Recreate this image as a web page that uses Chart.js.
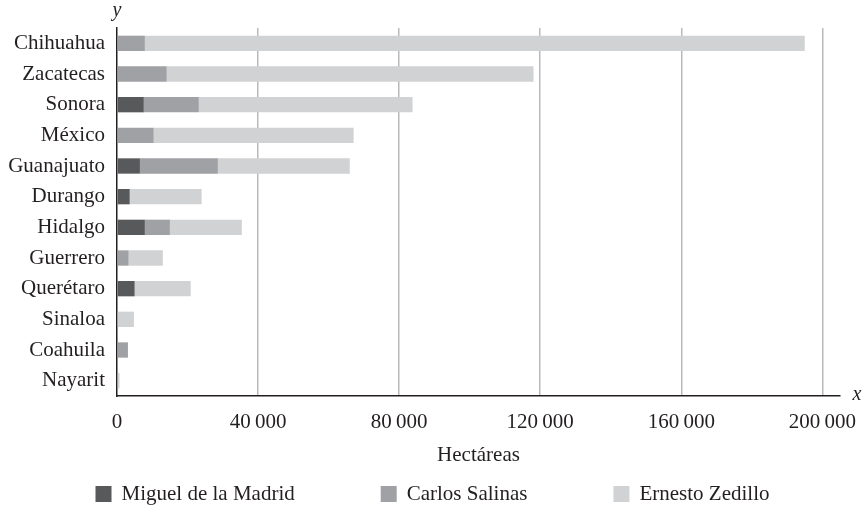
<!DOCTYPE html>
<html>
<head>
<meta charset="utf-8">
<script src="https://cdn.jsdelivr.net/npm/chart.js@4.4.1/dist/chart.umd.min.js"></script>
<style>
  html, body { margin: 0; padding: 0; background: #ffffff; }
  #wrap { width: 865px; height: 508px; position: relative; }
</style>
</head>
<body>
<div id="wrap"><canvas id="c" width="865" height="508"></canvas></div>
<script>
const states = ["Chihuahua", "Zacatecas", "Sonora", "México", "Guanajuato", "Durango", "Hidalgo", "Guerrero", "Querétaro", "Sinaloa", "Coahuila", "Nayarit"];
const madrid  = [0,    0,      7600,  0,     6500,  3600,  7900, 0,    5000,  0,    0,    0];
const salinas = [7900, 14100,  15600, 10400, 22100, 0,     7100, 3300, 0,     0,    3100, 0];
const zedillo = [187100, 104000, 60600, 56700, 37400, 20400, 20400, 9700, 15900, 4800, 0, 700];
const xTicks = [0, 40000, 80000, 120000, 160000, 200000];
const seriesNames = ["Miguel de la Madrid", "Carlos Salinas", "Ernesto Zedillo"];

const FONT = "'Liberation Serif', 'Times New Roman', serif";
const TEXT = "#231f20";

function fmt(v) {
  const s = String(v);
  if (s.length <= 3) return s;
  return s.slice(0, s.length - 3) + "\u2009" + s.slice(s.length - 3);
}

const axisLetters = {
  id: 'axisLetters',
  afterDraw(chart) {
    const ctx = chart.ctx;
    const a = chart.chartArea;
    ctx.save();
    ctx.fillStyle = TEXT;
    ctx.font = "italic 20px " + FONT;
    ctx.textAlign = "center";
    ctx.textBaseline = "middle";
    ctx.fillText("y", a.left, 11);
    ctx.fillText("x", a.right + 17, a.bottom - 1);
    ctx.restore();
  }
};

// Legend drawn from the chart's own datasets, spaced like the reference
const bottomLegend = {
  id: 'bottomLegend',
  afterDraw(chart) {
    const ctx = chart.ctx;
    const ds = chart.data.datasets;
    const box = 16, gap = 10, spacing = 86, y = 494;
    ctx.save();
    ctx.font = "21px " + FONT;
    const widths = ds.map(d => box + gap + ctx.measureText(d.label).width);
    const total = widths.reduce((s, w) => s + w, 0) + spacing * (ds.length - 1);
    let x = (chart.width - total) / 2;
    ctx.textBaseline = "middle";
    ctx.textAlign = "left";
    ds.forEach((d, i) => {
      ctx.fillStyle = d.backgroundColor;
      ctx.fillRect(x, y - box / 2, box, box);
      ctx.fillStyle = TEXT;
      ctx.fillText(d.label, x + box + gap, y);
      x += widths[i] + spacing;
    });
    ctx.restore();
  }
};

new Chart(document.getElementById('c'), {
  type: 'bar',
  data: {
    labels: states,
    datasets: [
      { label: seriesNames[0], data: madrid,  backgroundColor: "#58595b" },
      { label: seriesNames[1], data: salinas, backgroundColor: "#a0a1a4" },
      { label: seriesNames[2], data: zedillo, backgroundColor: "#d1d2d4" }
    ]
  },
  options: {
    indexAxis: 'y',
    responsive: false,
    animation: false,
    devicePixelRatio: 1,
    layout: { padding: { top: 28, right: 25, left: 0, bottom: 40 } },
    datasets: { bar: { barPercentage: 0.5, categoryPercentage: 1.0, borderWidth: 0 } },
    plugins: {
      legend: { display: false },
      tooltip: { enabled: false }
    },
    scales: {
      x: {
        stacked: true,
        min: 0,
        max: 205000,
        afterBuildTicks(scale) { scale.ticks = xTicks.map(v => ({ value: v })); },
        afterFit(scale) { scale.height = 72; scale.paddingRight = 0; scale.paddingLeft = 0; },
        ticks: {
          callback: v => fmt(v),
          font: { family: FONT, size: 21 },
          color: TEXT,
          padding: 14,
          maxRotation: 0,
          autoSkip: false
        },
        grid: {
          color: ctx => (ctx.tick && ctx.tick.value === 0) ? 'rgba(0,0,0,0)' : '#b9b9bb',
          lineWidth: 1.5,
          drawTicks: false
        },
        border: { display: true, color: TEXT, width: 1.5 },
        title: {
          display: true,
          text: "Hectáreas",
          font: { family: FONT, size: 21 },
          color: TEXT,
          padding: { top: 6, bottom: 0 }
        }
      },
      y: {
        stacked: true,
        afterFit(scale) { scale.width = 117; scale.paddingTop = 0; scale.paddingBottom = 0; },
        ticks: {
          font: { family: FONT, size: 21 },
          color: TEXT,
          padding: 12,
          autoSkip: false
        },
        grid: { display: false, drawTicks: false },
        border: { display: true, color: TEXT, width: 1.5 }
      }
    }
  },
  plugins: [axisLetters, bottomLegend]
});
</script>
</body>
</html>
